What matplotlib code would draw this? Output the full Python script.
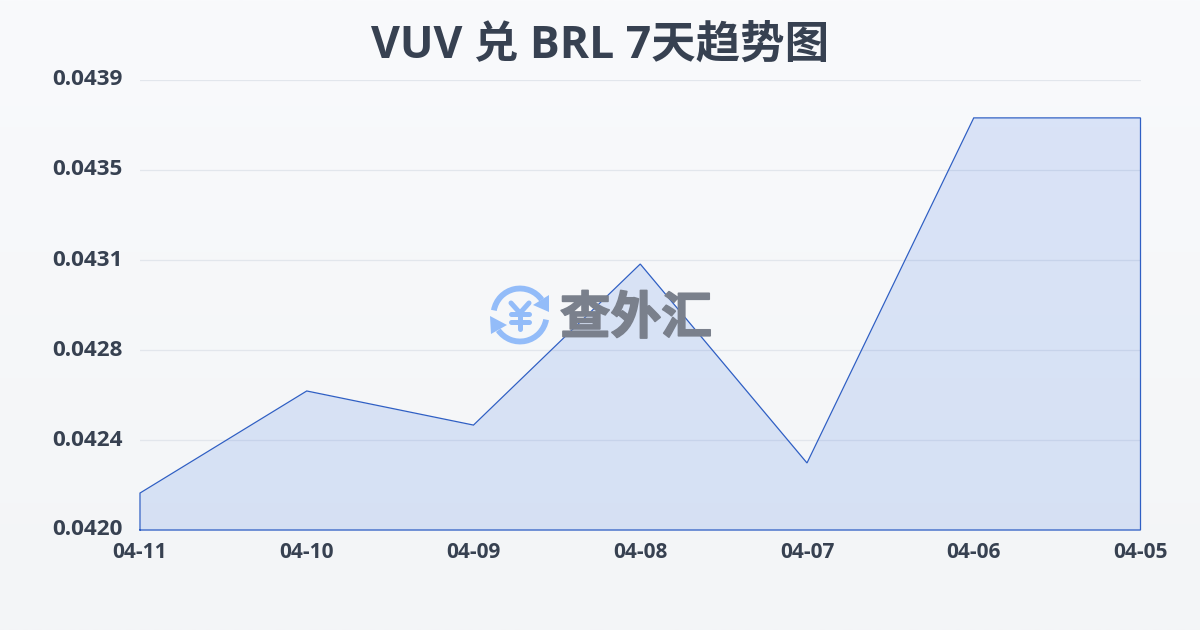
import matplotlib
matplotlib.use("Agg")
import matplotlib.pyplot as plt
import matplotlib.patheffects as pe
import numpy as np
from matplotlib.patches import Arc, Polygon

# --- Data ---
DATES = ["04-11", "04-10", "04-09", "04-08", "04-07", "04-06", "04-05"]
RATES = [0.042156, 0.042587, 0.042443, 0.043123, 0.042283, 0.04374, 0.04374]
Y_TICKS = [0.0420, 0.04238, 0.04276, 0.04314, 0.04352, 0.0439]
Y_LABELS = ["0.0420", "0.0424", "0.0428", "0.0431", "0.0435", "0.0439"]
TITLE = "VUV 兑 BRL 7天趋势图"
WATERMARK = "查外汇"

plt.rcParams["font.family"] = ["Open Sans", "Noto Sans CJK SC", "DejaVu Sans"]

TEXT_COLOR = "#374151"
LINE_COLOR = "#2f5fc4"
ICON_COLOR = "#93bcf9"

fig = plt.figure(figsize=(12, 6.3), dpi=100)

# page background, soft vertical gradient
bg = fig.add_axes([0, 0, 1, 1], zorder=0)
gradient = np.linspace(0, 1, 256).reshape(-1, 1)
top = np.array([0xf9, 0xfa, 0xfc]) / 255
bottom = np.array([0xf3, 0xf5, 0xf7]) / 255
bg.imshow((top + (bottom - top) * gradient[..., None]), aspect="auto")
bg.axis("off")

# main chart
ax = fig.add_axes([140 / 1200, 1 - 530 / 630, 1000.5 / 1200, 450 / 630], zorder=1)
ax.patch.set_alpha(0)
x = np.arange(len(DATES))
ax.fill_between(x, RATES, Y_TICKS[0], color="#2563e0", alpha=0.14, linewidth=0, zorder=2)
ax.plot(np.r_[x[0], x, x[-1], x[0]], np.r_[Y_TICKS[0], RATES, Y_TICKS[0], Y_TICKS[0]],
        color=LINE_COLOR, linewidth=0.9, zorder=4, solid_joinstyle="miter", clip_on=False)
ax.set_xlim(x[0], x[-1])
ax.set_ylim(Y_TICKS[0], Y_TICKS[-1])
ax.set_xticks(x)
ax.set_xticklabels(DATES, fontsize=15, fontweight="bold", color=TEXT_COLOR)
ax.set_yticks(Y_TICKS)
ax.set_yticklabels(Y_LABELS, fontsize=16.2, fontweight="bold", color=TEXT_COLOR)
ax.tick_params(axis="both", length=0)
ax.tick_params(axis="x", pad=9)
ax.tick_params(axis="y", pad=12.5)
for label in ax.get_yticklabels():
    label.set_verticalalignment("center")
ax.yaxis.grid(True, color="#e2e6ec", linewidth=0.9)
ax.set_axisbelow(True)
for spine in ax.spines.values():
    spine.set_visible(False)

fig.text(0.5, 1 - 46 / 630, TITLE, ha="center", va="center", fontsize=32,
         fontweight="bold", color=TEXT_COLOR)

# watermark logo, drawn in pixel coordinates
wm = fig.add_axes([0, 0, 1, 1], zorder=2)
wm.set_xlim(0, 1200)
wm.set_ylim(630, 0)
wm.axis("off")
wm.patch.set_alpha(0)
cx, cy, r = 520, 315, 26.5
wm.add_patch(Arc((cx, cy), 2 * r, 2 * r, theta1=190, theta2=325, color=ICON_COLOR, linewidth=4.2))
wm.add_patch(Arc((cx, cy), 2 * r, 2 * r, theta1=10, theta2=145, color=ICON_COLOR, linewidth=4.2))
wm.add_patch(Polygon([(549, 295), (549, 312), (533, 305)], color=ICON_COLOR, linewidth=0))
wm.add_patch(Polygon([(490, 316), (491, 334), (507, 325)], color=ICON_COLOR, linewidth=0))
for xs, ys in [((511, 520, 529), (303, 313, 303)), ((520, 520), (313, 329)),
               ((511, 529), (314, 314)), ((511, 529), (322, 322))]:
    wm.plot(xs, ys, color=ICON_COLOR, linewidth=3.6, solid_capstyle="round")
wm.text(636, 319, WATERMARK, ha="center", va="center", fontsize=36.5, fontweight="bold",
        color="#7a808c", family=["Noto Sans CJK SC", "DejaVu Sans"], zorder=3,
        path_effects=[pe.withStroke(linewidth=1.2, foreground="#7a808c")])

fig.savefig("out.png", dpi=100)
